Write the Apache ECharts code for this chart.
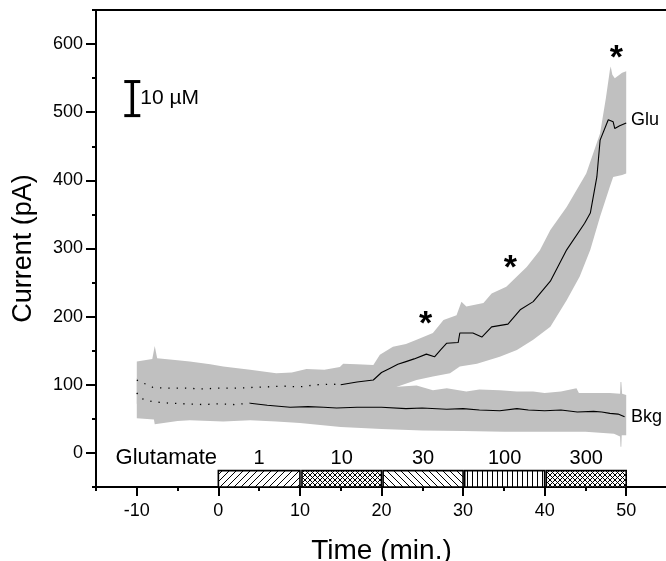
<!DOCTYPE html>
<html>
<head>
<meta charset="utf-8">
<script src="https://cdn.jsdelivr.net/npm/echarts@6/dist/echarts.min.js"></script>
<style>
html,body{margin:0;padding:0;background:#fff;}
#chart{width:666px;height:561px;}
</style>
</head>
<body>
<div id="chart"></div>
<script>
// ---------------- data ----------------
var xMajorTicks = [-10, 0, 10, 20, 30, 40, 50];
var xMinorTicks = [-15, -5, 5, 15, 25, 35, 45, 55];
var yMajorTicks = [0, 100, 200, 300, 400, 500, 600];
var yMinorTicks = [-50, 50, 150, 250, 350, 450, 550, 650];

// Glu mean trace
var gluT    = [-10, -8, -6, -4, -2, 0, 2, 4, 6, 8, 10, 12, 14, 15, 17, 19, 20, 21, 22, 23, 24, 25.5, 26.5, 27.3, 28, 29.4, 29.6, 31.2, 32.3, 33.5, 35.5, 37, 38.6, 40.7, 42.7, 44.9, 45.6, 46.4, 46.8, 47.8, 48.4, 48.6, 49.2, 50];
var gluMean = [107, 96, 95, 95, 94, 95, 95, 96, 97, 98, 97, 100, 101, 100, 104, 107, 118, 124, 130, 134, 138, 145, 141, 152, 161, 162, 176, 176, 170, 185, 189, 210, 222, 252, 298, 337, 352, 405, 459, 489, 486, 476, 480, 484];
// Glu shaded band (upper / lower edge)
var gluUpperT = [-10, -8.1, -7.8, -7.5, -5, -3.5, -1, 0.6, 3.9, 7.1, 9, 10.8, 13, 14.9, 15.3, 17, 19, 19.8, 21.4, 23, 24.3, 26.3, 27.6, 29.2, 29.8, 30.4, 32.5, 33.5, 35.3, 37.8, 39.4, 40.7, 42.7, 45.1, 46.8, 47.5, 48.0, 48.1, 48.3, 48.6, 49.5, 50];
var gluUpper  = [134, 138, 157, 139, 136, 134, 130, 127, 122, 117, 118, 123, 122, 126, 131, 130, 129, 144, 156, 160, 166, 176, 195, 202, 222, 215, 220, 234, 244, 273, 297, 327, 361, 410, 469, 520, 562, 567, 555, 550, 558, 560];
var gluLowerT = [-10, -5, 0, 5, 10, 15, 20, 21.9, 24.3, 26.3, 28.4, 29.6, 31.7, 34.5, 36.6, 38.6, 40.7, 42.7, 44.3, 45.6, 46.8, 48.0, 48.4, 49.5, 50];
var gluLower  = [72, 62, 62, 62, 64, 68, 85, 97, 107, 112, 117, 127, 131, 141, 151, 166, 185, 224, 259, 298, 347, 391, 405, 408, 410];

// Bkg mean trace
var bkgT    = [-10, -9.5, -8, -6, -4, -2, 0, 2, 3.9, 6, 8.8, 11, 12.9, 14.5, 17, 20, 23, 25, 28, 30, 32, 34.5, 36.6, 38, 40, 42, 44, 46, 47, 48, 49, 49.8];
var bkgMean = [88, 80, 75, 73, 72, 71, 72, 71, 73, 70, 67, 68, 67, 66, 67, 67, 65, 66, 64, 65, 63, 62, 65, 63, 62, 63, 60, 61, 60, 58, 57, 53];
// Bkg shaded band
var bkgUpperT = [-10, -5, 0, 5, 10, 15, 20, 21.9, 24.3, 26.3, 28, 30.4, 32, 34.5, 36.6, 38.6, 40, 42, 43.9, 44.2, 46, 48, 49.25, 49.3, 49.4, 49.5, 50];
var bkgUpper  = [110, 105, 104, 102, 100, 100, 100, 97, 99, 92, 95, 90, 93, 92, 90, 90, 88, 90, 95, 88, 88, 88, 87, 104, 104, 87, 85];
var bkgLowerT = [-10, -7.9, -7.8, -5, -3.5, 0.6, 3.9, 7.1, 10, 15, 20, 25, 30, 35, 40, 45, 48.5, 49.25, 49.3, 49.4, 49.45, 50];
var bkgLower  = [51, 49, 42, 47, 48, 46, 48, 46, 44, 38, 35, 33, 32, 31, 31, 31, 28, 24, 9, 9, 26, 26];

// Glutamate application boxes
var concLabels = ['1', '10', '30', '100', '300'];
var boxStart   = [0, 10.25, 20.2, 30.2, 40.2];
var boxEnd     = [10, 20, 30, 40, 50];
var boxPattern = ['fwd', 'cross', 'back', 'vert', 'cross'];

// significance stars
var starT = [25.4, 35.8, 48.8];
var starV = [199, 281, 589];

// ---------------- helpers ----------------
function makePattern(kind) {
  var s = kind === 'cross' ? 5 : (kind === 'vert' ? 5 : 7);
  var c = document.createElement('canvas');
  c.width = s; c.height = s;
  var g = c.getContext('2d');
  g.fillStyle = '#fff'; g.fillRect(0, 0, s, s);
  g.strokeStyle = '#000'; g.lineWidth = 1;
  function ln(x1, y1, x2, y2) { g.beginPath(); g.moveTo(x1, y1); g.lineTo(x2, y2); g.stroke(); }
  if (kind === 'fwd' || kind === 'cross') { ln(-1, s + 1, s + 1, -1); ln(-1, 1, 1, -1); ln(s - 1, s + 1, s + 1, s - 1); }
  if (kind === 'back' || kind === 'cross') { ln(-1, -1, s + 1, s + 1); ln(s - 1, -1, s + 1, 1); ln(-1, s - 1, 1, s + 1); }
  if (kind === 'vert') { ln(2.5, 0, 2.5, s); }
  return { image: c, repeat: 'repeat' };
}
function pairs(ts, vs) { return ts.map(function (t, i) { return [t, vs[i]]; }); }
function bandPolygon(upT, up, loT, lo) {
  var pts = pairs(upT, up);
  var lower = pairs(loT, lo).reverse();
  return pts.concat(lower);
}
var gluBand = bandPolygon(gluUpperT, gluUpper, gluLowerT, gluLower);
var bkgBand = bandPolygon(bkgUpperT, bkgUpper, bkgLowerT, bkgLower);

var FONT = '"Liberation Sans", Arial, sans-serif';

function bandSeries(name, poly) {
  return {
    type: 'custom', name: name, z: 1, silent: true,
    data: [0],
    renderItem: function (params, api) {
      return {
        type: 'polygon',
        shape: { points: poly.map(function (p) { return api.coord(p); }) },
        style: { fill: '#c0c0c0', stroke: null }
      };
    }
  };
}

var gluEarly = pairs(gluT, gluMean).filter(function (p) { return p[0] <= 15; });
var gluLate  = pairs(gluT, gluMean).filter(function (p) { return p[0] >= 15; });
var bkgEarly = pairs(bkgT, bkgMean).filter(function (p) { return p[0] <= 3.9; });
var bkgLate  = pairs(bkgT, bkgMean).filter(function (p) { return p[0] >= 3.9; });

function lineSeries(data, dotted) {
  return {
    type: 'line', data: data, symbol: 'none', z: 3, silent: true,
    lineStyle: { color: '#000', width: dotted ? 1.3 : 1.1, type: dotted ? [1.3, 7] : 'solid' }
  };
}

var chart = echarts.init(document.getElementById('chart'), null, { renderer: 'canvas' });

var option = {
  animation: false,
  backgroundColor: '#fff',
  grid: { left: 96, top: 10, right: -1, bottom: 74, containLabel: false, outerBoundsMode: 'none' },
  xAxis: [
    {
      type: 'value', min: -15, max: 55, position: 'bottom',
      name: 'Time (min.)', nameLocation: 'middle', nameGap: 50, nameMoveOverlap: false,
      nameTextStyle: { fontFamily: FONT, fontSize: 28, color: '#000' },
      axisLine: { show: true, onZero: false, lineStyle: { color: '#000', width: 2 } },
      axisTick: { show: true, customValues: xMajorTicks, length: 9, lineStyle: { color: '#000', width: 2 } },
      axisLabel: { customValues: xMajorTicks, fontFamily: FONT, fontSize: 18, color: '#000', margin: 15 },
      splitLine: { show: false }
    },
    {
      type: 'value', min: -15, max: 55, position: 'bottom',
      axisLine: { show: false, onZero: false },
      axisTick: { show: true, customValues: xMinorTicks, length: 4, lineStyle: { color: '#000', width: 2 } },
      axisLabel: { show: false }, splitLine: { show: false }
    },
    {
      type: 'value', min: -15, max: 55, position: 'top',
      axisLine: { show: true, onZero: false, lineStyle: { color: '#000', width: 2 } },
      axisTick: { show: false }, axisLabel: { show: false }, splitLine: { show: false }
    }
  ],
  yAxis: [
    {
      type: 'value', min: -50, max: 650, position: 'left',
      name: 'Current (pA)', nameLocation: 'middle', nameGap: 59, nameRotate: 90, nameMoveOverlap: false,
      nameTextStyle: { fontFamily: FONT, fontSize: 27, color: '#000' },
      axisLine: { show: true, onZero: false, lineStyle: { color: '#000', width: 2 } },
      axisTick: { show: true, customValues: yMajorTicks, length: 10, lineStyle: { color: '#000', width: 2 } },
      axisLabel: { customValues: yMajorTicks, fontFamily: FONT, fontSize: 18, color: '#000', margin: 13 },
      splitLine: { show: false }
    },
    {
      type: 'value', min: -50, max: 650, position: 'left',
      axisLine: { show: false, onZero: false },
      axisTick: { show: true, customValues: yMinorTicks, length: 4, lineStyle: { color: '#000', width: 2 } },
      axisLabel: { show: false }, splitLine: { show: false }
    }
  ],
  series: [
    bandSeries('Glu band', gluBand),
    bandSeries('Bkg band', bkgBand),
    lineSeries(gluEarly, true),
    lineSeries(gluLate, false),
    lineSeries(bkgEarly, true),
    lineSeries(bkgLate, false),
    {
      // glutamate application boxes + labels
      type: 'custom', z: 4, silent: true,
      data: concLabels.map(function (l, i) { return [boxStart[i], boxEnd[i], i]; }),
      renderItem: function (params, api) {
        var i = api.value(2);
        var p0 = api.coord([api.value(0), -26]);
        var p1 = api.coord([api.value(1), -50]);
        var mid = api.coord([(boxStart[i] + boxEnd[i]) / 2, -8]);
        return {
          type: 'group',
          children: [
            {
              type: 'rect',
              shape: { x: p0[0], y: p0[1], width: p1[0] - p0[0], height: p1[1] - p0[1] },
              style: { fill: makePattern(boxPattern[i]), stroke: '#000', lineWidth: 1.6 }
            },
            {
              type: 'text',
              style: { text: concLabels[i], x: mid[0], y: mid[1], align: 'center', verticalAlign: 'middle',
                       font: '20px ' + FONT, fill: '#000' }
            }
          ]
        };
      }
    },
    {
      // annotations: stars, labels, scale bar
      type: 'custom', z: 5, silent: true,
      data: [0],
      renderItem: function (params, api) {
        var kids = [];
        starT.forEach(function (t, i) {
          var p = api.coord([t, starV[i]]);
          kids.push({ type: 'text', style: { text: '*', x: p[0], y: p[1] + 7, align: 'center', verticalAlign: 'middle',
                      font: 'bold 34px ' + FONT, fill: '#000' } });
        });
        var g = api.coord([50.6, 488]);
        kids.push({ type: 'text', style: { text: 'Glu', x: g[0], y: g[1], align: 'left', verticalAlign: 'middle', font: '18px ' + FONT, fill: '#000' } });
        var b = api.coord([50.6, 53]);
        kids.push({ type: 'text', style: { text: 'Bkg', x: b[0], y: b[1], align: 'left', verticalAlign: 'middle', font: '18px ' + FONT, fill: '#000' } });
        var gl = api.coord([-12.6, -8]);
        kids.push({ type: 'text', style: { text: 'Glutamate', x: gl[0], y: gl[1], align: 'left', verticalAlign: 'middle', font: '22px ' + FONT, fill: '#000' } });
        // scale bar 10 µM
        var s0 = api.coord([-10.55, 545]);
        var s1 = api.coord([-10.55, 495]);
        var hw = 8;
        kids.push({ type: 'line', shape: { x1: s0[0], y1: s0[1], x2: s1[0], y2: s1[1] }, style: { stroke: '#000', lineWidth: 3.5 } });
        kids.push({ type: 'line', shape: { x1: s0[0] - hw, y1: s0[1], x2: s0[0] + hw, y2: s0[1] }, style: { stroke: '#000', lineWidth: 3 } });
        kids.push({ type: 'line', shape: { x1: s1[0] - hw, y1: s1[1], x2: s1[0] + hw, y2: s1[1] }, style: { stroke: '#000', lineWidth: 3 } });
        kids.push({ type: 'text', style: { text: '10 µM', x: s0[0] + 8, y: (s0[1] + s1[1]) / 2, align: 'left', verticalAlign: 'middle', font: '21px ' + FONT, fill: '#000' } });
        return { type: 'group', children: kids };
      }
    }
  ]
};
chart.setOption(option);
</script>
</body>
</html>
